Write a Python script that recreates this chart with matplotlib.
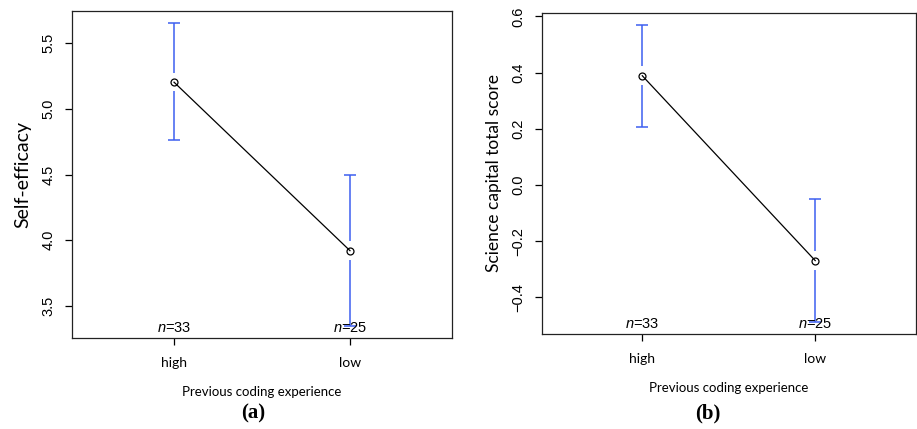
import numpy as np
import matplotlib
matplotlib.use('Agg')
import matplotlib.pyplot as plt
import matplotlib.transforms as mtransforms

plt.rcParams['font.family'] = ['Liberation Sans', 'DejaVu Sans']
plt.rcParams['mathtext.fontset'] = 'custom'
plt.rcParams['mathtext.it'] = 'Liberation Sans:italic'
plt.rcParams['mathtext.rm'] = 'Liberation Sans'

# data
groups = ['high', 'low']
n_counts = [33, 25]

eff_mean = [5.203, 3.920]
eff_lower = [4.760, 3.347]
eff_upper = [5.653, 4.497]

sci_mean = [0.389, -0.269]
sci_lower = [0.208, -0.488]
sci_upper = [0.570, -0.051]

blue = '#3d5ff0'
label_font = 'Lato'


def plotmeans(ax, means, lower, upper, ylabel, yticks, gap, ylab_size):
    x = np.arange(1, len(groups) + 1)
    means = np.asarray(means)
    lower = np.asarray(lower)
    upper = np.asarray(upper)
    # blue CI bars with a gap around the mean
    ax.vlines(x, means + gap, upper, color=blue, lw=1.1, zorder=2)
    ax.vlines(x, lower, means - gap, color=blue, lw=1.1, zorder=2)
    ax.plot(x, upper, ls='none', marker='_', ms=8, mew=1.1, color=blue)
    ax.plot(x, lower, ls='none', marker='_', ms=8, mew=1.1, color=blue)
    # means connected
    ax.plot(x, means, color='black', lw=0.9, marker='o', ms=5,
            mfc='none', mec='black', mew=0.9, zorder=3)

    # R-style 4% padding
    lo, hi = lower.min(), upper.max()
    pad = (hi - lo) * 0.04
    ax.set_ylim(lo - pad, hi + pad)
    ax.set_xlim(0.5 - 0.08, len(groups) + 0.5 + 0.08)

    ax.set_xticks(x)
    ax.set_xticklabels(groups, fontfamily=label_font, fontsize=10)
    ax.set_yticks(yticks)
    ax.set_yticklabels([f'{t:.1f}'.replace('-', '\u2212') for t in yticks],
                       rotation=90, va='center', fontsize=10.5)
    ax.tick_params(axis='y', length=5, width=0.9, pad=7)
    ax.tick_params(axis='x', length=5, width=0.9, pad=9)
    ax.set_ylabel(ylabel, fontfamily=label_font, fontsize=ylab_size, labelpad=7)
    ax.set_xlabel('Previous coding experience', fontfamily=label_font,
                  fontsize=9.5, labelpad=12)
    for s in ax.spines.values():
        s.set_linewidth(0.9)
        s.set_color('#222222')

    trans = mtransforms.blended_transform_factory(ax.transData, ax.transAxes)
    for xi, n in zip(x, n_counts):
        ax.text(xi, 0.008, f'$n$={n}', transform=trans, ha='center',
                va='bottom', fontsize=10.5)


fig = plt.figure(figsize=(9.17, 4.29), dpi=100)
ax1 = fig.add_axes([72 / 917, 1 - 338 / 429, 380 / 917, 327 / 429])
ax2 = fig.add_axes([542 / 917, 1 - 334 / 429, 373.5 / 917, 321 / 429])

plotmeans(ax1, eff_mean, eff_lower, eff_upper, 'Self-efficacy',
          [3.5, 4.0, 4.5, 5.0, 5.5], 0.07, 14)
plotmeans(ax2, sci_mean, sci_lower, sci_upper, 'Science capital total score',
          [-0.4, -0.2, 0.0, 0.2, 0.4, 0.6], 0.034, 12.5)

fig.text(253 / 917, 1 - 413 / 429, '(a)', ha='center', va='center',
         fontfamily='Liberation Serif', fontweight='bold', fontsize=15)
fig.text(708 / 917, 1 - 413 / 429, '(b)', ha='center', va='center',
         fontfamily='Liberation Serif', fontweight='bold', fontsize=15)

fig.savefig('out.png', dpi=100)
